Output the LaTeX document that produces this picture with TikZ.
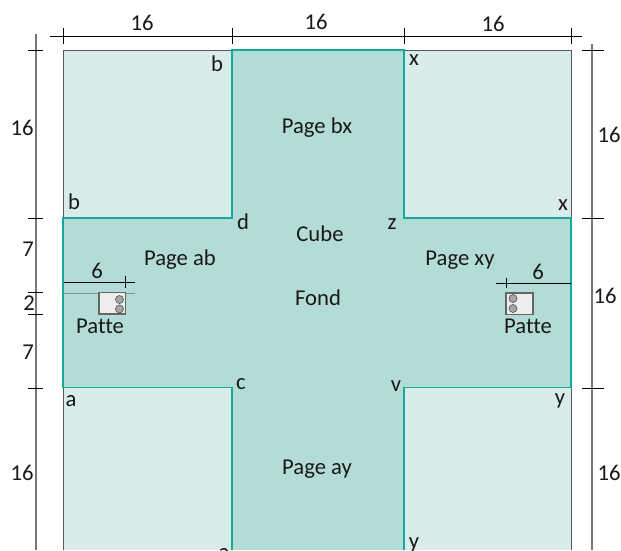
\documentclass[tikz,border=0pt]{standalone}
\usepackage{fontspec}
\setmainfont[Ligatures=NoCommon]{Carlito}
\definecolor{pageclair}{HTML}{D9ECEA}
\definecolor{pagefonce}{HTML}{B4DCD6}
\definecolor{pagebord}{HTML}{14A99D}
\definecolor{cotegris}{HTML}{777777}
\begin{document}
\begin{tikzpicture}[x=0.75pt,y=-0.75pt]
    \tikzstyle{lbl}=[font=\fontsize{17}{18}\selectfont,inner sep=0pt,text=black!90]
    \tikzstyle{cote}=[draw=black,line width=0.6pt]
    \tikzstyle{coteg}=[draw=cotegris,line width=0.9pt]
    \useasboundingbox (0,0) rectangle (621,550);
    \clip (0,0) rectangle (621,550);
    % pages
    \fill[pageclair] (63,50) rectangle (571,550);
    \draw[draw=black!65,line width=0.7pt] (63,550) -- (63,50) -- (571,50) -- (571,550);
    \filldraw[draw=pagebord,fill=pagefonce,line width=1.3pt]
        (232,550) -- (232,387.5) -- (63,387.5) -- (63,218) -- (232,218) -- (232,50)
        -- (404,50) -- (404,218) -- (571,218) -- (571,387.5) -- (404,387.5) -- (404,550);
    % cotes
    \coordinate (h0) at (50,36);
    \coordinate (h1) at (582,36);
    \draw[cote] (h0) -- (h1);
    \foreach \x in {63,232,404,571}
        \draw[cote] (\x,28) -- (\x,44);
    \coordinate (g0) at (36,34);
    \coordinate (g1) at (36,550);
    \draw[coteg] (g0) -- (g1);
    \foreach \y in {50,218,292,314,388}
        \draw[cote] (28,\y) -- (43,\y);
    \coordinate (d0) at (592,44);
    \coordinate (d1) at (592,550);
    \draw[coteg] (d0) -- (d1);
    \foreach \y in {50,218,388}
        \draw[cote] (582,\y) -- (604,\y);
    % pattes
    \tikzstyle{patte}=[draw=black!60,fill=black!7,line width=0.8pt]
    \tikzstyle{trou}=[draw=black!65,fill=black!35,line width=0.5pt]
    \draw[black!45,line width=0.5pt] (63,293) -- (135,293);
    \draw[cote] (64,282) -- (135,282) (125.5,276) -- (125.5,288);
    \draw[patte] (99,292.5) rectangle (125.5,314);
    \draw[trou] (119.5,299.5) circle (4) (119.5,309) circle (4);
    \draw[cote] (496,283) -- (571,283) (506,278) -- (506,288);
    \draw[patte] (506,293) rectangle (533,314.5);
    \draw[trou] (513,298.5) circle (4) (513,308.5) circle (4);
    % textes
    \node[lbl] (c1) at (142,23) {16};
    \node[lbl] (c2) at (316,22) {16};
    \node[lbl] (c3) at (493,24) {16};
    \node[lbl] (g16a) at (22,128) {16};
    \node[lbl] (g7a) at (28,249) {7};
    \node[lbl] (g2) at (29,303) {2};
    \node[lbl] (g7b) at (28,352) {7};
    \node[lbl] (g16b) at (22,473) {16};
    \node[lbl] (d16a) at (609,135) {16};
    \node[lbl] (d16b) at (605,296) {16};
    \node[lbl] (d16c) at (609,473) {16};
    \node[lbl] (bx) at (317,128) {Page bx};
    \node[lbl] (cube) at (320,234) {Cube};
    \node[lbl] (ab) at (180,260) {Page ab};
    \node[lbl] (xy) at (460,260) {Page xy};
    \node[lbl] (fond) at (318,298) {Fond};
    \node[lbl] (ay) at (317,469) {Page ay};
    \node[lbl] (p6a) at (97,271) {6};
    \node[lbl] (p6b) at (538,272) {6};
    \node[lbl] (pa) at (100,326) {Patte};
    \node[lbl] (pb) at (528,326) {Patte};
    \node[lbl] (lb1) at (217,64) {b};
    \node[lbl] (lx1) at (414,60) {x};
    \node[lbl] (lb2) at (74,202) {b};
    \node[lbl] (lx2) at (563,205) {x};
    \node[lbl] (ld) at (243,222) {d};
    \node[lbl] (lz) at (392,224) {z};
    \node[lbl] (la1) at (71,401) {a};
    \node[lbl] (lc) at (241,384) {c};
    \node[lbl] (lv) at (396,386) {v};
    \node[lbl] (ly1) at (560,401) {y};
    \node[lbl] (la2) at (224,554) {a};
    \node[lbl] (ly2) at (414,545) {y};
\end{tikzpicture}
\end{document}
